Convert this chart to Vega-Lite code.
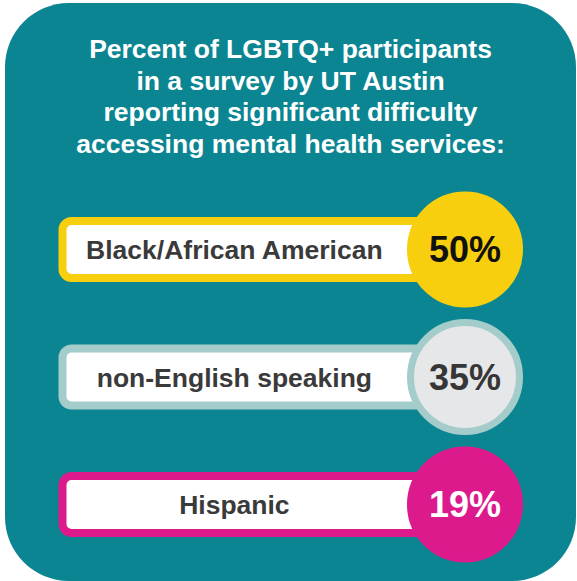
{
  "$schema": "https://vega.github.io/schema/vega-lite/v6.json",
  "width": 571,
  "height": 578,
  "padding": {"left": 5, "top": 3, "right": 1, "bottom": 0},
  "autosize": {"type": "none"},
  "background": "#ffffff",
  "config": {
    "view": {"fill": "#0B8592", "stroke": null, "cornerRadius": 64},
    "text": {"font": "Liberation Sans", "fontWeight": "bold"}
  },
  "title": {
    "text": ["Percent of LGBTQ+ participants", "in a survey by UT Austin", "reporting significant difficulty", "accessing mental health services:"],
    "anchor": "middle",
    "frame": "group",
    "orient": "top",
    "offset": -176,
    "fontSize": 26.5,
    "font": "Liberation Sans",
    "fontWeight": "bold",
    "color": "#ffffff",
    "lineHeight": 31.5,
    "baseline": "alphabetic"
  },
  "data": {
    "values": [
      {"group": "Black/African American", "percent": 50, "label": "50%"},
      {"group": "non-English speaking", "percent": 35, "label": "35%"},
      {"group": "Hispanic", "percent": 19, "label": "19%"}
    ]
  },
  "encoding": {
    "y": {
      "field": "group",
      "type": "nominal",
      "sort": null,
      "scale": {"type": "point", "padding": 0, "domain": ["Black/African American", "non-English speaking", "Hispanic"], "range": [246.5, 501.5]},
      "axis": null
    }
  },
  "layer": [
    {
      "mark": {"type": "bar", "height": 57, "cornerRadius": 9, "fill": "#ffffff", "strokeWidth": 8},
      "encoding": {
        "x": {"datum": 0, "type": "quantitative", "scale": {"domain": [0, 100], "range": [57.5, 460]}, "axis": null},
        "x2": {"datum": 100},
        "stroke": {"field": "group", "type": "nominal", "scale": {"domain": ["Black/African American", "non-English speaking", "Hispanic"], "range": ["#F7CF0E", "#A3CCCB", "#DC1A8C"]}, "legend": null}
      }
    },
    {
      "mark": {"type": "text", "fontSize": 26.5, "fill": "#3A3A3A", "align": "center", "baseline": "middle", "dy": 1.5},
      "encoding": {
        "x": {"datum": 42.7, "type": "quantitative"},
        "text": {"field": "group"}
      }
    },
    {
      "mark": {"type": "point", "shape": "circle", "filled": true, "size": 11881, "strokeWidth": 7, "opacity": 1},
      "encoding": {
        "x": {"datum": 100, "type": "quantitative"},
        "fill": {"field": "group", "type": "nominal", "scale": {"domain": ["Black/African American", "non-English speaking", "Hispanic"], "range": ["#F7CF0E", "#E6E7E9", "#DC1A8C"]}, "legend": null},
        "stroke": {"field": "group", "type": "nominal", "legend": null}
      }
    },
    {
      "mark": {"type": "text", "fontSize": 36, "align": "center", "baseline": "middle", "dy": 1.5},
      "encoding": {
        "x": {"datum": 100, "type": "quantitative"},
        "text": {"field": "label"},
        "color": {"field": "group", "type": "nominal", "scale": {"domain": ["Black/African American", "non-English speaking", "Hispanic"], "range": ["#111111", "#363636", "#ffffff"]}, "legend": null}
      }
    }
  ]
}
